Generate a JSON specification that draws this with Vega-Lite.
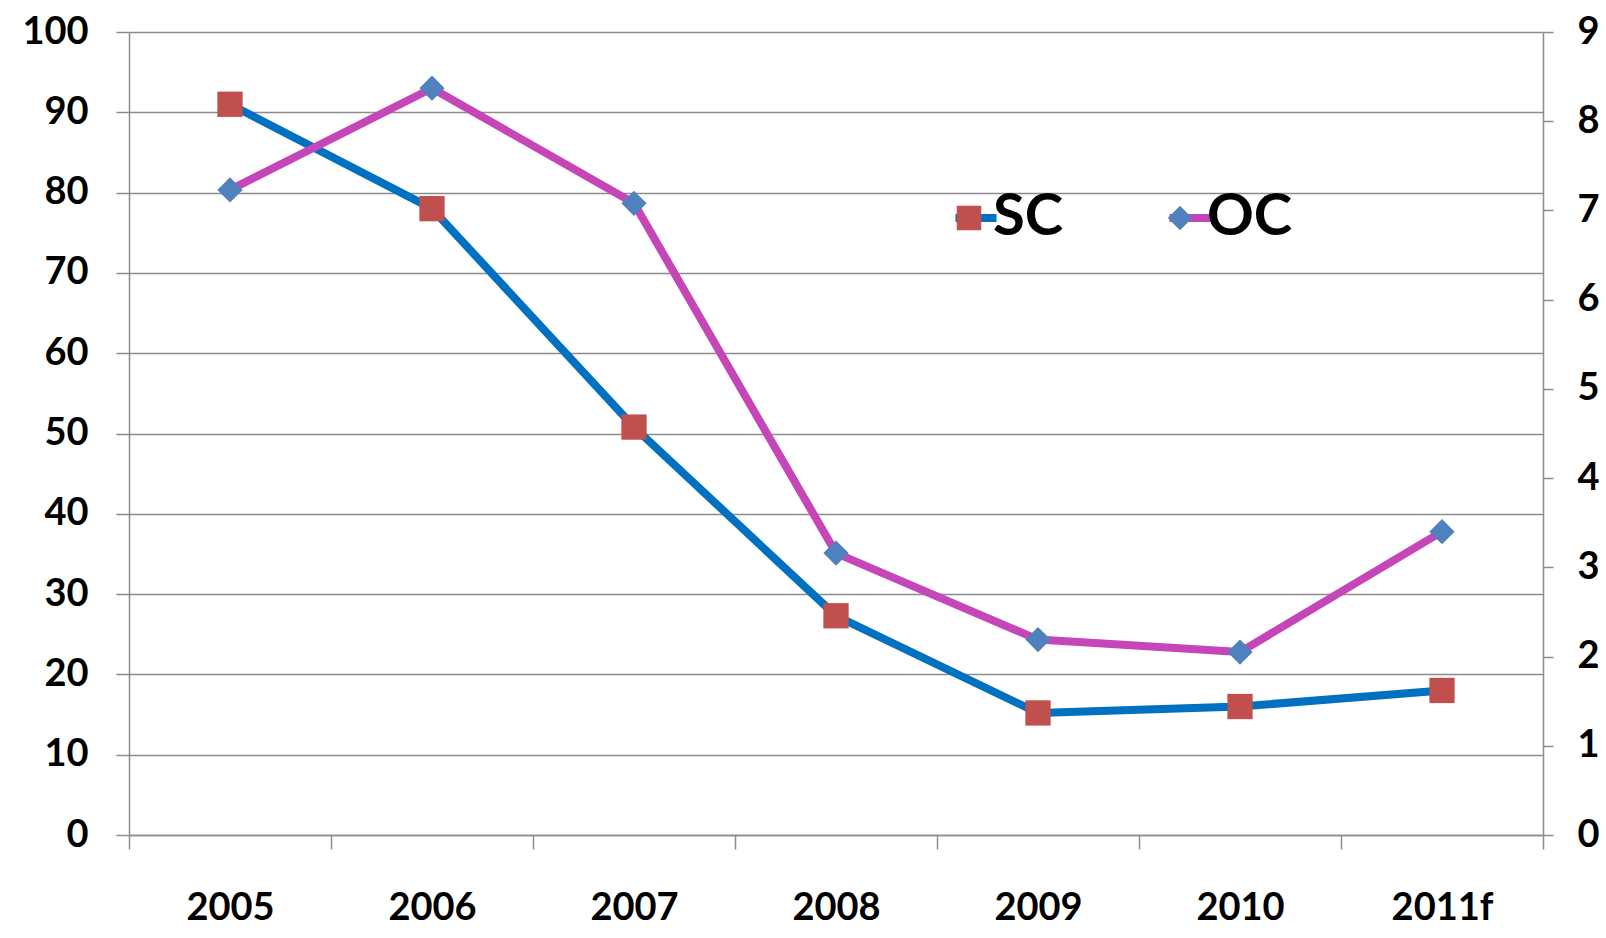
{
  "$schema": "https://vega.github.io/schema/vega-lite/v6.json",
  "width": 1414,
  "height": 803,
  "autosize": {"type": "none"},
  "padding": {"left": 129, "top": 32, "right": 63, "bottom": 103},
  "background": "white",
  "config": {
    "view": {"stroke": null},
    "font": "Lato",
    "axis": {
      "labelFont": "Lato",
      "labelFontWeight": "bold",
      "labelFontSize": 38,
      "labelColor": "#000000",
      "domainColor": "#8C8C8C",
      "domainWidth": 1.5,
      "tickColor": "#8C8C8C",
      "tickWidth": 1.5,
      "gridColor": "#8C8C8C",
      "gridWidth": 1.5,
      "title": null
    }
  },
  "data": {
    "values": [
      {"year": "2005", "series": "SC", "value": 91.0},
      {"year": "2006", "series": "SC", "value": 78.0},
      {"year": "2007", "series": "SC", "value": 50.8},
      {"year": "2008", "series": "SC", "value": 27.3},
      {"year": "2009", "series": "SC", "value": 15.2},
      {"year": "2010", "series": "SC", "value": 16.0},
      {"year": "2011f", "series": "SC", "value": 18.0},
      {"year": "2005", "series": "OC", "value": 7.23},
      {"year": "2006", "series": "OC", "value": 8.37},
      {"year": "2007", "series": "OC", "value": 7.08},
      {"year": "2008", "series": "OC", "value": 3.16},
      {"year": "2009", "series": "OC", "value": 2.19},
      {"year": "2010", "series": "OC", "value": 2.05},
      {"year": "2011f", "series": "OC", "value": 3.40}
    ]
  },
  "encoding": {
    "x": {
      "field": "year",
      "type": "ordinal",
      "sort": ["2005", "2006", "2007", "2008", "2009", "2010", "2011f"],
      "scale": {"paddingInner": 0, "paddingOuter": 0},
      "axis": {
        "labelAngle": 0,
        "tickBand": "extent",
        "tickSize": 14,
        "labelPadding": 40,
        "grid": false
      }
    }
  },
  "layer": [
    {
      "transform": [{"filter": "datum.series === 'SC'"}],
      "encoding": {
        "y": {
          "field": "value",
          "type": "quantitative",
          "scale": {"domain": [0, 100], "nice": false},
          "axis": {
            "orient": "left",
            "values": [0, 10, 20, 30, 40, 50, 60, 70, 80, 90, 100],
            "grid": true,
            "tickSize": 13,
            "labelPadding": 28
          }
        }
      },
      "layer": [
        {
          "mark": {"type": "line", "strokeWidth": 8, "strokeJoin": "round"},
          "encoding": {
            "color": {
              "field": "series",
              "type": "nominal",
              "scale": {"domain": ["SC", "OC"], "range": ["#0070C0", "#C446B8"]},
              "legend": {
                "orient": "none",
                "legendX": 818,
                "legendY": 157,
                "direction": "horizontal",
                "title": null,
                "padding": 0,
                "symbolType": "stroke",
                "symbolSize": 1681,
                "symbolStrokeWidth": 8,
                "labelFont": "Lato",
                "labelFontSize": 58,
                "labelFontWeight": "bold",
                "labelColor": "#000000",
                "labelOffset": -12,
                "columnPadding": 89
              }
            }
          }
        },
        {
          "mark": {"type": "point", "filled": true, "opacity": 1, "size": 640, "strokeWidth": 0},
          "encoding": {
            "fill": {
              "field": "series",
              "type": "nominal",
              "sort": ["SC", "OC"],
              "scale": {"range": ["#C0504D", "#4F81BD"]},
              "legend": {
                "orient": "none",
                "legendX": 811,
                "legendY": 157,
                "direction": "horizontal",
                "title": null,
                "padding": 0,
                "symbolSize": 600,
                "symbolStrokeWidth": 0,
                "symbolOpacity": 1,
                "labelFont": "Lato",
                "labelFontSize": 58,
                "labelFontWeight": "bold",
                "labelOpacity": 0,
                "labelOffset": 5,
                "columnPadding": 77,
                "encode": {
                  "symbols": {
                    "update": {
                      "shape": {"signal": "datum.value === 'SC' ? 'square' : 'diamond'"}
                    }
                  }
                }
              }
            },
            "shape": {
              "field": "series",
              "type": "nominal",
              "sort": ["SC", "OC"],
              "scale": {"range": ["square", "diamond"]}
            }
          }
        }
      ]
    },
    {
      "transform": [{"filter": "datum.series === 'OC'"}],
      "encoding": {
        "y": {
          "field": "value",
          "type": "quantitative",
          "scale": {"domain": [0, 9], "nice": false},
          "axis": {
            "orient": "right",
            "values": [0, 1, 2, 3, 4, 5, 6, 7, 8, 9],
            "grid": false,
            "tickSize": 10,
            "labelPadding": 24
          }
        }
      },
      "layer": [
        {
          "mark": {"type": "line", "strokeWidth": 8, "strokeJoin": "round"},
          "encoding": {
            "color": {
              "field": "series",
              "type": "nominal",
              "scale": {"domain": ["SC", "OC"], "range": ["#0070C0", "#C446B8"]}
            }
          }
        },
        {
          "mark": {"type": "point", "filled": true, "opacity": 1, "size": 640, "strokeWidth": 0},
          "encoding": {
            "fill": {
              "field": "series",
              "type": "nominal",
              "sort": ["SC", "OC"],
              "scale": {"range": ["#C0504D", "#4F81BD"]}
            },
            "shape": {
              "field": "series",
              "type": "nominal",
              "sort": ["SC", "OC"],
              "scale": {"range": ["square", "diamond"]}
            }
          }
        }
      ]
    }
  ],
  "resolve": {"scale": {"y": "independent"}}
}
